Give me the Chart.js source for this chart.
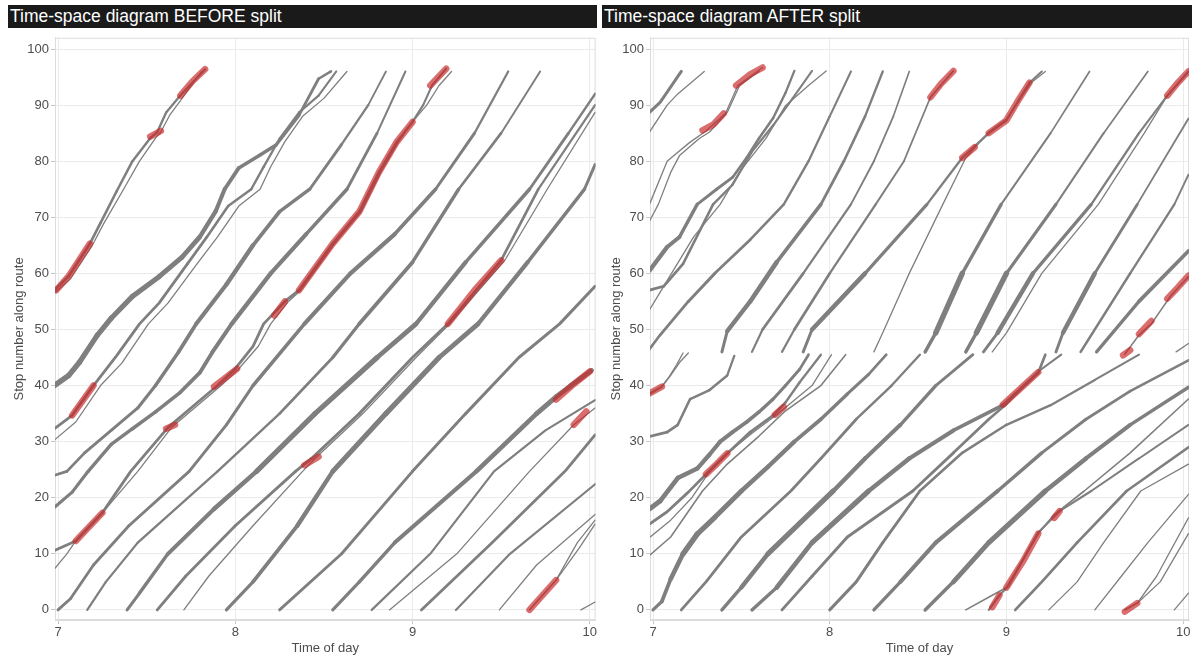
<!DOCTYPE html>
<html lang="en">
<head>
<meta charset="UTF-8">
<title>Time-space diagrams</title>
<script src="https://cdn.jsdelivr.net/npm/chart.js"></script>
<style>
  body { margin: 0; width: 1194px; height: 656px; background: #fff; position: relative; overflow: hidden; }
  .strip {
    position: absolute; top: 5px; height: 23px; background: #1a1a1a; color: #fff;
    font-family: "Liberation Sans", Arial, sans-serif; font-size: 17.5px; line-height: 23px;
    padding-left: 2px; box-sizing: border-box; white-space: nowrap;
  }
  .panel { position: absolute; top: 28px; height: 628px; }
</style>
</head>
<body>
<div class="strip" style="left:8px; width:589px;">Time-space diagram BEFORE split</div>
<div class="strip" style="left:602px; width:590px;">Time-space diagram AFTER split</div>
<div class="panel" style="left:0; width:598px;"><canvas id="before"></canvas></div>
<div class="panel" style="left:597px; width:597px;"><canvas id="after"></canvas></div>

<script>
// axis ticks
const hourTicks = [7, 8, 9, 10];
const stopTicks = [0, 10, 20, 30, 40, 50, 60, 70, 80, 90, 100];

// BEFORE split: one trip per array, points are [time of day, stop number]
const beforeTrips = [
  [[6.98,57],[7.06,59.5],[7.18,65.3],[7.24,69],[7.33,74.6],[7.42,80],[7.52,84.1],[7.56,85.2],[7.61,88.7],[7.69,91.7],[7.83,96.4]],
  [[6.98,56.5],[7.07,59],[7.19,64.8],[7.26,69],[7.37,75],[7.46,80],[7.55,84.1],[7.58,85.2],[7.63,88.2],[7.7,91.2],[7.81,96]],
  [[6.98,40],[7.06,41.8],[7.12,44.1],[7.22,48.9],[7.3,52],[7.42,55.9],[7.57,59.4],[7.7,62.9],[7.8,66.5],[7.89,71.1],[7.94,75],[8.02,78.8],[8.14,81.1],[8.23,82.9],[8.36,88.2],[8.47,94.7],[8.54,96]],
  [[6.98,32.3],[7.08,34.7],[7.2,40],[7.33,45.3],[7.46,51],[7.57,54.7],[7.73,61.7],[7.84,66.5],[7.96,72],[8.09,75],[8.16,79],[8.25,84],[8.36,88.7],[8.47,91.7],[8.57,96]],
  [[6.98,30.3],[7.1,33.5],[7.24,40],[7.36,44],[7.51,51],[7.62,54.7],[7.78,61.5],[7.9,66.5],[8.02,72],[8.14,75],[8.2,79],[8.28,83.5],[8.38,88],[8.5,91.2],[8.63,96]],
  [[6.98,24],[7.05,24.7],[7.15,28],[7.3,32],[7.45,36],[7.55,40],[7.68,46],[7.78,51],[7.95,58],[8.1,65],[8.25,71],[8.42,75],[8.6,83],[8.75,90],[8.85,96]],
  [[6.98,18.3],[7.08,21],[7.17,24.7],[7.3,29.5],[7.42,32.3],[7.55,35.3],[7.69,38.8],[7.8,42.3],[7.87,45.9],[7.98,51],[8.2,60],[8.4,67],[8.63,75],[8.8,85],[8.96,96]],
  [[6.98,10.6],[7.1,12.3],[7.25,17.3],[7.41,24.7],[7.62,32.5],[7.75,36],[7.9,40],[8.0,43],[8.1,47],[8.16,51],[8.28,55],[8.36,57],[8.55,65.3],[8.7,71],[8.81,78],[8.91,83.4],[9.0,87],[9.06,90],[9.11,93.5],[9.19,96.5]],
  [[6.98,7.3],[7.05,10],[7.1,12.3],[7.25,17.3],[7.45,24.7],[7.64,32.5],[7.77,36],[7.92,40],[8.02,43],[8.13,47],[8.2,51],[8.3,55],[8.37,57],[8.56,65.3],[8.71,71],[8.82,78],[8.92,83.4],[9.0,87],[9.08,90],[9.15,93.5],[9.22,96]],
  [[7.0,0],[7.07,2],[7.2,8],[7.4,15],[7.74,24.7],[7.95,33],[8.1,40],[8.39,51],[8.65,60],[8.9,67],[9.13,75],[9.35,85],[9.54,96]],
  [[7.165,0],[7.27,5],[7.45,12],[7.9,24.7],[8.25,35],[8.55,45],[8.7,51],[9.0,62],[9.26,75],[9.5,85],[9.72,96]],
  [[7.39,0],[7.46,3],[7.62,10],[7.88,18],[8.12,24.7],[8.45,35],[8.8,45],[9.02,51],[9.3,62],[9.66,75],[9.88,85],[10.03,92]],
  [[7.56,0],[7.72,6],[8.0,15],[8.34,24.7],[8.43,27],[8.7,35],[9.0,45],[9.2,51],[9.5,62.3],[9.71,75],[10.03,90]],
  [[7.71,0],[7.85,6],[8.1,15],[8.38,24.7],[8.45,27],[8.72,35],[9.02,45],[9.21,51],[9.52,62.3],[9.76,75],[10.03,88.7]],
  [[7.95,0],[8.1,5],[8.35,15],[8.55,24.7],[8.85,35],[9.15,45],[9.37,51],[9.65,62],[9.97,75],[10.03,79.4]],
  [[8.25,0],[8.6,10],[9.0,24.7],[9.3,35],[9.6,45],[9.83,51],[10.03,57.7]],
  [[8.55,0],[8.7,5],[8.9,12],[9.36,24.7],[9.7,35],[9.81,38],[10.01,42.7]],
  [[8.77,0],[9.1,10],[9.46,24.7],[9.75,32],[10.03,37.4]],
  [[8.87,0],[9.25,10],[9.66,24.7],[9.91,33],[10.03,36]],
  [[9.05,0],[9.45,12],[9.86,24.7],[10.03,31.2]],
  [[9.245,0],[9.55,10],[10.03,22.4]],
  [[9.49,0],[9.7,8],[10.03,17]],
  [[9.66,0],[9.81,5.3],[9.93,12],[10.03,16]],
  [[9.66,0],[9.81,5.3],[9.94,11],[10.03,15.3]],
  [[9.95,0],[10.03,1.4]]
];
// bunching segments highlighted in red
const beforeBunching = [
  [[6.99,57],[7.06,59.5],[7.18,65.3]],
  [[7.52,84.4],[7.58,85.4]],
  [[7.69,91.7],[7.76,94.3],[7.83,96.4]],
  [[7.08,34.7],[7.2,40]],
  [[7.1,12.3],[7.25,17.3]],
  [[7.61,32.3],[7.66,33]],
  [[7.88,39.8],[7.95,41.5],[8.01,43]],
  [[8.22,52.5],[8.28,55]],
  [[8.36,57],[8.55,65.3],[8.7,71],[8.81,78],[8.91,83.4],[9.0,87]],
  [[9.1,93.5],[9.19,96.5]],
  [[8.39,25.8],[8.47,27.3]],
  [[9.2,51],[9.35,57],[9.5,62.3]],
  [[9.66,0],[9.81,5.3]],
  [[9.81,37.5],[9.9,40],[10.0,42.5]],
  [[9.91,33],[9.98,35.4]]
];

// AFTER split: upper half of the route (stop 46 to 96)
const afterUpperTrips = [
  [[6.98,88.7],[7.04,90.5],[7.08,92.3],[7.16,96]],
  [[6.98,85.2],[7.08,90],[7.14,92],[7.29,96]],
  [[6.98,72.3],[7.08,80],[7.11,80.8],[7.21,83.4],[7.3,85.4],[7.41,88.5],[7.48,93.5],[7.62,96.7]],
  [[6.98,69.3],[7.03,72.3],[7.1,78],[7.15,81],[7.26,84],[7.32,85.2],[7.42,88.7],[7.49,93.5],[7.6,96]],
  [[6.98,60.5],[7.08,64.7],[7.15,66.5],[7.25,72.3],[7.36,75],[7.45,77.1],[7.53,80.6],[7.6,84.1],[7.68,87.7],[7.75,92.2],[7.8,96.1]],
  [[6.98,57],[7.06,57.7],[7.17,61.7],[7.34,72.3],[7.45,75.8],[7.56,81.7],[7.68,86.4],[7.79,91.2],[7.9,96.1]],
  [[6.98,53.5],[7.08,58.7],[7.23,66.5],[7.38,72.3],[7.49,78.1],[7.64,84.1],[7.75,89.9],[7.88,93.5],[7.98,96.1]],
  [[6.98,46.5],[7.04,49],[7.2,55],[7.35,60],[7.55,66],[7.74,72.3],[7.88,80],[8.0,88],[8.12,96]],
  [[7.39,46],[7.42,49.7],[7.55,55],[7.7,62],[7.95,72.3],[8.08,80],[8.2,88],[8.3,96]],
  [[7.56,46],[7.62,50],[7.85,60],[8.12,72.3],[8.25,80],[8.36,88],[8.45,96]],
  [[7.73,46],[7.8,50],[8.0,60],[8.26,72.3],[8.42,80],[8.57,91.4],[8.7,96.1]],
  [[7.85,46],[7.9,50],[8.2,60],[8.55,72.3],[8.75,80.6],[8.9,85],[9.0,87.3],[9.13,94],[9.2,96]],
  [[8.25,46],[8.3,49.4],[8.45,60],[8.64,72.3],[8.77,80.6],[8.9,85.2],[9.0,87.5],[9.14,94],[9.22,96]],
  [[8.54,46],[8.6,49.4],[8.75,60],[8.97,72.3],[9.25,85],[9.47,96]],
  [[8.77,46],[8.83,49.4],[9.0,60],[9.28,72.3],[9.55,85],[9.8,96]],
  [[8.87,46],[8.95,49.4],[9.15,60],[9.48,72.3],[9.75,85],[9.91,91.7],[10.03,96]],
  [[8.92,46],[9.0,49.4],[9.2,60],[9.52,72.3],[9.78,85],[9.91,91.7],[10.03,96]],
  [[9.28,46],[9.32,49.4],[9.5,60],[9.74,72.3],[10.03,87.6]],
  [[9.42,46],[9.7,60],[9.95,72.3],[10.03,77.6]],
  [[9.51,46],[9.75,55],[10.03,64]],
  [[9.67,45.6],[9.75,49],[9.82,51],[9.93,56],[10.03,59.4]],
  [[9.96,46],[10.03,47.5]]
];
// AFTER split: lower half of the route (stop 0 to 46)
const afterLowerTrips = [
  [[6.98,38.4],[7.05,39.7],[7.1,41.8],[7.15,44.1],[7.2,45.8]],
  [[6.98,38.6],[7.05,39.9],[7.09,41.5],[7.13,43.5],[7.17,45.8]],
  [[6.98,30.9],[7.08,31.7],[7.14,33],[7.21,37.6],[7.32,39.2],[7.42,41.8],[7.46,45.3]],
  [[6.98,18],[7.04,19.4],[7.14,23.5],[7.25,25.2],[7.32,27.7],[7.38,30],[7.45,31.7],[7.53,33.5],[7.6,35.3],[7.68,37.6],[7.75,40],[7.83,42.9],[7.88,45.5]],
  [[6.98,15.3],[7.08,17.5],[7.2,21],[7.3,24.2],[7.42,27.9],[7.55,31.7],[7.68,34.7],[7.75,37],[7.83,40.6],[7.95,45.5]],
  [[6.98,12.9],[7.1,16],[7.22,20],[7.31,24.2],[7.42,27.9],[7.56,31.5],[7.7,34.8],[7.9,40],[8.01,45.5]],
  [[6.98,9.7],[7.1,13],[7.28,21.2],[7.42,26],[7.6,31],[7.75,35.5],[7.95,40],[8.09,45.5]],
  [[7.0,0],[7.05,1.5],[7.1,5.5],[7.17,10],[7.25,13.5],[7.35,16.5],[7.5,21.2],[7.65,25.5],[7.8,30],[7.95,34],[8.1,38.5],[8.22,42],[8.32,45.5]],
  [[7.16,0],[7.3,5],[7.5,13],[7.78,21.2],[7.95,27],[8.15,34],[8.35,40],[8.51,45.5]],
  [[7.39,0],[7.5,4],[7.65,10],[8.02,21.2],[8.2,27],[8.4,33],[8.6,40],[8.81,45.5]],
  [[7.56,0],[7.7,4],[7.9,12],[8.22,21.2],[8.45,27],[8.7,32],[8.98,36.5],[9.18,42.3],[9.22,45.5]],
  [[7.73,0],[7.9,6],[8.1,13],[8.47,21.2],[8.7,28],[8.9,34],[9.0,36.7],[9.18,42.5],[9.31,45.5]],
  [[8.0,0],[8.15,5],[8.3,12],[8.51,21.2],[8.75,28],[9.0,33],[9.25,36.5],[9.5,41],[9.75,45.5]],
  [[8.25,0],[8.4,5],[8.6,12],[8.95,21.2],[9.2,28],[9.45,34],[9.7,39],[10.03,44.5]],
  [[8.54,0],[8.7,5],[8.9,12],[9.22,21.2],[9.45,27],[9.7,33],[10.03,39.7]],
  [[8.77,0],[8.92,2.6],[9.0,4],[9.18,13.6],[9.27,17],[9.44,21.2],[9.7,28],[10.03,37.6]],
  [[8.9,0],[8.96,2.6],[9.01,4.2],[9.18,13.8],[9.3,17.6],[9.48,21.2],[9.75,27],[10.03,33]],
  [[9.05,0],[9.2,5],[9.4,12],[9.68,21.2],[10.03,29]],
  [[9.24,0],[9.4,5],[9.55,12],[9.76,21.2],[10.03,26]],
  [[9.5,0],[9.65,6],[9.8,12],[10.03,20.6]],
  [[9.67,0],[9.74,1.2],[9.85,6],[10.03,16.4]],
  [[9.67,0],[9.74,1.2],[9.87,5],[10.03,13.6]],
  [[9.95,0],[10.03,3]]
];
const afterBunching = [
  [[7.28,85.5],[7.34,86.5],[7.4,88.5]],
  [[7.47,93.5],[7.55,95.5],[7.62,96.7]],
  [[8.57,91.4],[8.63,93.8],[8.7,96.1]],
  [[8.75,80.6],[8.82,82.5]],
  [[8.9,85],[9.0,87.3],[9.06,90.5],[9.13,94]],
  [[9.91,91.7],[9.97,94],[10.03,96]],
  [[9.66,45.4],[9.7,46.3]],
  [[9.75,49.2],[9.82,51.5]],
  [[9.91,55.5],[9.97,57.5],[10.03,59.6]],
  [[6.98,38.6],[7.05,39.8]],
  [[7.3,24.2],[7.36,26],[7.42,27.9]],
  [[7.69,34.8],[7.74,36.2]],
  [[8.98,36.6],[9.08,39.5],[9.18,42.4]],
  [[8.92,0.5],[8.96,2.6]],
  [[9.0,4],[9.1,9],[9.18,13.6]],
  [[9.27,16.4],[9.3,17.6]],
  [[9.67,-0.3],[9.74,1.2]]
];

// line width (passenger load) per trip, given at the stops in the matching *Knots array
const beforeKnots = [0, 35, 60, 96];
const beforeWidths = [
  [2.8,2.8,2.8,2.2],[1.3,1.3,1.3,1.3],[4,5.5,5,2.5],[2.8,2.8,2.8,2],[1.3,1.3,1.3,1.3],
  [2.2,3,4.5,1.6],[2.8,3.5,4.5,1.6],[2.8,2.8,2.8,2],[1.3,1.3,1.3,1.3],[2.8,3,4.5,1.8],
  [2.2,2.5,4,1.6],[3,5.5,4,2],[2.8,3,3,1.8],[1.3,1.3,1.3,1.3],[3,5.5,4,2],
  [2.8,3,3,2],[3,5,4,3],[2.2,2.2,2,2],[1.3,1.3,1.3,1.3],[2.8,2.8,2.8,2.8],
  [2.2,2.2,2.2,2.2],[1.3,1.3,1.3,1.3],[1.3,1.3,1.3,1.3],[1.3,1.3,1.3,1.3],[1.3,1.3,1.3,1.3]
];
const afterUpperKnots = [46, 55, 72, 96];
const afterUpperWidths = [
  [3,3,3,3],[1.3,1.3,1.3,1.3],[1.3,1.3,1.3,1.3],[1.3,1.3,1.3,1.3],[5,5.5,3,2.2],
  [2.8,2.8,2.5,2],[1.3,1.3,1.3,1.3],[2.5,3,2.5,2],[2.5,5,3,2.2],[2,2.8,2,1.6],
  [2,2.8,2,1.6],[2.5,4.5,2.5,2],[1.3,1.3,1.3,1.3],[3,5.5,2.2,1.6],[3,5.5,2.2,1.6],
  [2.5,4.5,2.5,2],[1.3,1.3,1.3,1.3],[2.5,4.5,2,1.6],[2,2.8,2,1.6],[2.5,4,3,3],
  [1.6,1.6,1.6,1.6],[1.3,1.3,1.3,1.3]
];
const afterLowerKnots = [0, 12, 30, 46];
const afterLowerWidths = [
  [1.3,1.3,1.3,1.3],[1.3,1.3,1.3,1.3],[2.8,2.8,2.8,2.2],[5,5.5,4,2.5],[2.8,2.8,2.8,2.2],
  [1.3,1.3,1.3,1.3],[1.6,1.6,1.6,1.6],[3,5.5,4,2.5],[2.8,2.8,2.8,2.2],[3,5.5,4,2.5],
  [3,5.5,4,2.5],[2.8,3,2.8,2],[3,3,2.5,2],[3,4.5,3,2.5],[3,5.5,4,2.5],
  [1.6,1.6,1.6,1.6],[2.2,2.2,2,2],[2.8,2.8,2.5,2],[1.3,1.3,1.3,1.3],[1.3,1.3,1.3,1.3],
  [1.3,1.3,1.3,1.3],[1.3,1.3,1.3,1.3],[1.3,1.3,1.3,1.3]
];

const GRAY = '#7f7f7f';
const RED = 'rgba(200, 42, 42, 0.68)';

function toPoints(trip) {
  return trip.map(p => ({ x: p[0], y: p[1] }));
}

// width at a stop, linear between the knots
function widthAt(knots, w, s) {
  if (s <= knots[0]) return w[0];
  for (let k = 1; k < knots.length; k++) {
    if (s <= knots[k]) {
      const f = (s - knots[k - 1]) / (knots[k] - knots[k - 1]);
      return w[k - 1] + f * (w[k] - w[k - 1]);
    }
  }
  return w[w.length - 1];
}

function tripSets(trips, widths, knots) {
  return trips.map((trip, i) => ({
    data: toPoints(trip),
    showLine: true,
    borderColor: GRAY,
    borderWidth: widths[i][0],
    segment: {
      borderWidth: ctx => widthAt(knots, widths[i], (ctx.p0.parsed.y + ctx.p1.parsed.y) / 2)
    },
    order: 1
  }));
}

function redSets(segs) {
  return segs.map(seg => ({
    data: toPoints(seg),
    showLine: true,
    borderColor: RED,
    borderWidth: 6.5,
    order: 0
  }));
}

// light panel border like the ggplot facets
const panelBorder = {
  id: 'panelBorder',
  beforeDatasetsDraw(chart) {
    const a = chart.chartArea, c = chart.ctx;
    c.save();
    c.strokeStyle = '#dcdcdc';
    c.lineWidth = 1;
    c.strokeRect(a.left + 0.5, a.top + 0.5, a.right - a.left - 1, a.bottom - a.top - 1);
    c.restore();
  }
};

function makePanel(id, datasets, yWidth, padRight) {
  new Chart(document.getElementById(id), {
    type: 'scatter',
    data: { datasets: datasets },
    options: {
      responsive: true,
      maintainAspectRatio: false,
      animation: false,
      events: [],
      layout: { padding: { top: 4, right: padRight, left: 0, bottom: 0 } },
      elements: {
        point: { radius: 0 },
        line: { tension: 0, borderCapStyle: 'round', borderJoinStyle: 'round' }
      },
      plugins: { legend: { display: false }, tooltip: { enabled: false } },
      scales: {
        x: {
          type: 'linear', min: 6.983, max: 10.033,
          afterBuildTicks: s => { s.ticks = hourTicks.map(v => ({ value: v })); },
          afterFit: s => { s.height = 36; },
          grid: { color: '#ebebeb', tickColor: '#c8c8c8', tickLength: 4 },
          border: { color: '#dcdcdc' },
          ticks: { color: '#4d4d4d', font: { family: 'Liberation Sans', size: 13 }, padding: 1, maxRotation: 0 },
          title: { display: true, text: 'Time of day', color: '#4d4d4d',
                   font: { family: 'Liberation Sans', size: 13 }, padding: { top: 0, bottom: 0 } }
        },
        y: {
          type: 'linear', min: -1.8, max: 102,
          afterBuildTicks: s => { s.ticks = stopTicks.map(v => ({ value: v })); },
          afterFit: s => { s.width = yWidth; },
          grid: { color: '#ebebeb', tickColor: '#c8c8c8', tickLength: 4 },
          border: { color: '#dcdcdc' },
          ticks: { color: '#4d4d4d', font: { family: 'Liberation Sans', size: 13 }, padding: 2 },
          title: { display: true, text: 'Stop number along route', color: '#4d4d4d',
                   font: { family: 'Liberation Sans', size: 13 }, padding: { top: 12, bottom: 0 } }
        }
      }
    },
    plugins: [panelBorder]
  });
}

makePanel('before',
  tripSets(beforeTrips, beforeWidths, beforeKnots).concat(redSets(beforeBunching)), 55, 1);
makePanel('after',
  tripSets(afterUpperTrips, afterUpperWidths, afterUpperKnots)
    .concat(tripSets(afterLowerTrips, afterLowerWidths, afterLowerKnots))
    .concat(redSets(afterBunching)), 53, 5);
</script>
</body>
</html>
